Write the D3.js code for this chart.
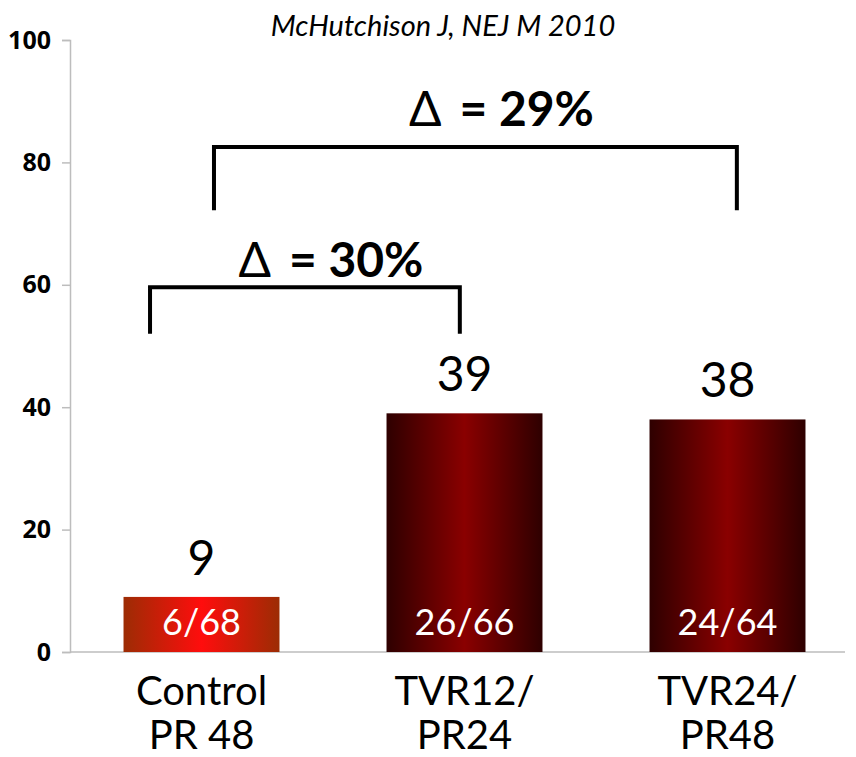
<html>
<head>
<script src="https://d3js.org/d3.v7.min.js"></script>
<style>
  body { margin: 0; background: #fff; }
  text { font-family: Lato, "Open Sans", sans-serif; }
  .yaxis text { font-size: 25px; font-weight: bold; font-family: "Open Sans", sans-serif; }
</style>
</head>
<body>
<svg id="svg" width="856" height="757"></svg>
<script>
// data
var categories = ["Control", "TVR12/", "TVR24/"];
var categories2 = ["PR 48", "PR24", "PR48"];
var values = [9, 39, 38];
var fractions = ["6/68", "26/66", "24/64"];
var yTicks = [0, 20, 40, 60, 80, 100];
// brackets: from/to category, position within band, top and bottom y value
var bracketFrom = ["Control", "Control"];
var bracketTo = ["TVR12/", "TVR24/"];
var bracketFromPos = [0.17, 0.58];
var bracketToPos = [0.47, 0.56];
var bracketTop = [59.6, 82.5];
var bracketBottom = [52, 72.2];
var deltaLabels = ["= 30%", "= 29%"];
var deltaY = [61.3, 86];

var svg = d3.select("svg");

var x = d3.scaleBand().domain(categories).range([70, 859]).paddingInner(0.407).paddingOuter(0.2035);
var y = d3.scaleLinear().domain([0, 100]).range([652, 40]);

// gradients
var defs = svg.append("defs");
function grad(id, edge, mid) {
  var g = defs.append("linearGradient").attr("id", id).attr("x1", "0%").attr("x2", "100%").attr("y1", "0%").attr("y2", "0%");
  g.append("stop").attr("offset", "0%").attr("stop-color", edge);
  g.append("stop").attr("offset", "50%").attr("stop-color", mid);
  g.append("stop").attr("offset", "100%").attr("stop-color", edge);
}
grad("gControl", "#9c2c04", "#ff0d0d");
grad("gTvr", "#2e0000", "#8a0000");

// title
svg.append("text").attr("x", 443).attr("y", 36).attr("text-anchor", "middle")
  .attr("font-style", "italic").attr("font-size", 29).text("McHutchison J, NEJ M 2010");

// y axis
var yAxis = svg.append("g").attr("class", "yaxis").attr("transform", "translate(70,0)")
  .call(d3.axisLeft(y).tickValues(yTicks).tickSize(8).tickPadding(11));
yAxis.attr("font-size", 25);
yAxis.select(".domain").attr("stroke", "#bdbdbd").attr("stroke-width", 1.5);
yAxis.selectAll(".tick line").attr("stroke", "#bdbdbd").attr("stroke-width", 1.5);
yAxis.selectAll(".tick text").attr("fill", "#000");

// baseline
svg.append("line").attr("x1", 70).attr("x2", 845).attr("y1", y(0)).attr("y2", y(0))
  .attr("stroke", "#bdbdbd").attr("stroke-width", 1.5);

// bars
svg.selectAll("rect.bar").data(values).enter().append("rect").attr("class", "bar")
  .attr("x", function(d, i) { return x(categories[i]); })
  .attr("width", x.bandwidth())
  .attr("y", function(d) { return y(d); })
  .attr("height", function(d) { return y(0) - y(d); })
  .attr("fill", function(d, i) { return i == 0 ? "url(#gControl)" : "url(#gTvr)"; });

// value labels
svg.selectAll("text.val").data(values).enter().append("text").attr("class", "val")
  .attr("x", function(d, i) { return x(categories[i]) + x.bandwidth() / 2; })
  .attr("y", function(d) { return y(d) - 22; })
  .attr("text-anchor", "middle").attr("font-size", 48).text(function(d) { return d; });

// fraction labels
svg.selectAll("text.frac").data(fractions).enter().append("text").attr("class", "frac")
  .attr("x", function(d, i) { return x(categories[i]) + x.bandwidth() / 2; })
  .attr("y", 635)
  .attr("text-anchor", "middle").attr("font-size", 36).attr("fill", "#fff").text(function(d) { return d; });

// category labels
categories.forEach(function(c, i) {
  var cx = x(c) + x.bandwidth() / 2;
  svg.append("text").attr("x", cx).attr("y", 705).attr("text-anchor", "middle").attr("font-size", 40).text(c);
  svg.append("text").attr("x", cx).attr("y", 749).attr("text-anchor", "middle").attr("font-size", 40).text(categories2[i]);
});

// brackets
bracketFrom.forEach(function(f, i) {
  var x1 = x(f) + bracketFromPos[i] * x.bandwidth();
  var x2 = x(bracketTo[i]) + bracketToPos[i] * x.bandwidth();
  svg.append("path")
    .attr("d", "M" + x1 + " " + y(bracketBottom[i]) + "L" + x1 + " " + y(bracketTop[i]) +
               "L" + x2 + " " + y(bracketTop[i]) + "L" + x2 + " " + y(bracketBottom[i]))
    .attr("fill", "none").attr("stroke", "#000").attr("stroke-width", 4);
  var t = svg.append("text").attr("x", (x1 + x2) / 2 + 26).attr("y", y(deltaY[i]))
    .attr("text-anchor", "middle").attr("font-size", 48);
  t.append("tspan").attr("font-weight", "normal").text("\u0394");
  t.append("tspan").attr("dx", 18).attr("font-weight", "bold").text(deltaLabels[i]);
});
</script>
</body>
</html>
